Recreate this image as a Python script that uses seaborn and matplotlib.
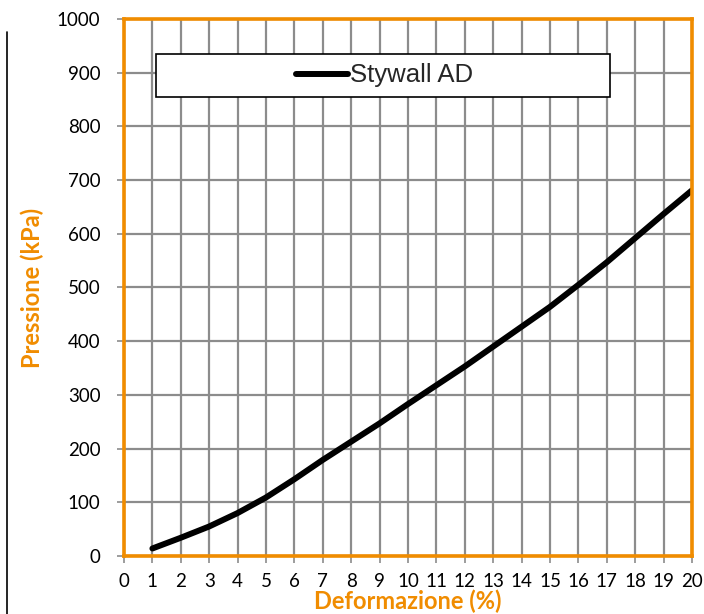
import matplotlib
matplotlib.use("Agg")
import matplotlib.pyplot as plt
from matplotlib.patches import Rectangle
from matplotlib.lines import Line2D
import seaborn as sns
import pandas as pd

# ---- data ----
deformazione = [1, 2, 3, 4, 5, 6, 7, 8, 9, 10, 11, 12, 13, 14, 15, 16, 17, 18, 19, 20]
pressione = [14, 34, 55, 80, 109, 143, 179, 213, 247, 283, 318, 353, 390, 427, 464, 505, 547, 592, 637, 681]
series_name = "Stywall AD"
x_ticks = list(range(0, 21))
y_ticks = list(range(0, 1001, 100))
x_label = "Deformazione (%)"
y_label = "Pressione (kPa)"

df = pd.DataFrame({"x": deformazione, "y": pressione, "serie": series_name})

sns.set_theme(style="white")
plt.rcParams["font.family"] = ["Lato", "DejaVu Sans"]

ORANGE = "#F08C00"
GRID = "#8C8C8C"

fig = plt.figure(figsize=(7.04, 6.14), dpi=100)
ax = fig.add_axes([124 / 704, 58 / 614, 568 / 704, 537 / 614])

sns.lineplot(data=df, x="x", y="y", ax=ax, color="black", linewidth=4.3,
             solid_capstyle="round", solid_joinstyle="round", legend=False, zorder=5)

ax.set_xlim(0, 20)
ax.set_ylim(0, 1000)
ax.set_xticks(x_ticks)
ax.set_yticks(y_ticks)
ax.set_xticklabels([str(t) for t in x_ticks])
ax.set_yticklabels([str(t) for t in y_ticks])

ax.grid(True, color=GRID, linewidth=1.6, zorder=0)
ax.set_axisbelow(True)
for s in ax.spines.values():
    s.set_color(ORANGE)
    s.set_linewidth(2.6)
    s.set_visible(True)
    s.set_zorder(6)

ax.tick_params(axis="both", which="major", direction="out", length=5,
               width=1.2, color=GRID, labelsize=13.5, labelcolor="black",
               bottom=True, left=True)
ax.tick_params(axis="y", pad=12)
ax.tick_params(axis="x", pad=7)

ax.set_xlabel(x_label, color=ORANGE, fontsize=17, fontweight="bold", labelpad=0)
ax.set_ylabel(y_label, color=ORANGE, fontsize=17, fontweight="bold", labelpad=9)

# legend box
box = Rectangle((32 / 568, (556 - 97) / 537), (610 - 156) / 568, 43 / 537,
                transform=ax.transAxes, facecolor="white", edgecolor="black",
                linewidth=1.2, zorder=7)
ax.add_patch(box)
handle = Line2D([], [], color="black", linewidth=4.3, solid_capstyle="round")
leg = ax.legend([handle], [series_name], loc="center",
                bbox_to_anchor=((32 + 229) / 568, (556 - 75.5) / 537),
                frameon=False, handlelength=2.0, handletextpad=0.1,
                prop={"family": "Liberation Sans", "size": 18.5})
leg.set_zorder(8)

# thin vertical decoration line at left of figure
fig.add_artist(Line2D([7 / 704, 7 / 704], [0, (614 - 32) / 614],
                      transform=fig.transFigure, color="black", linewidth=1.2))

fig.savefig("out.png", dpi=100)
